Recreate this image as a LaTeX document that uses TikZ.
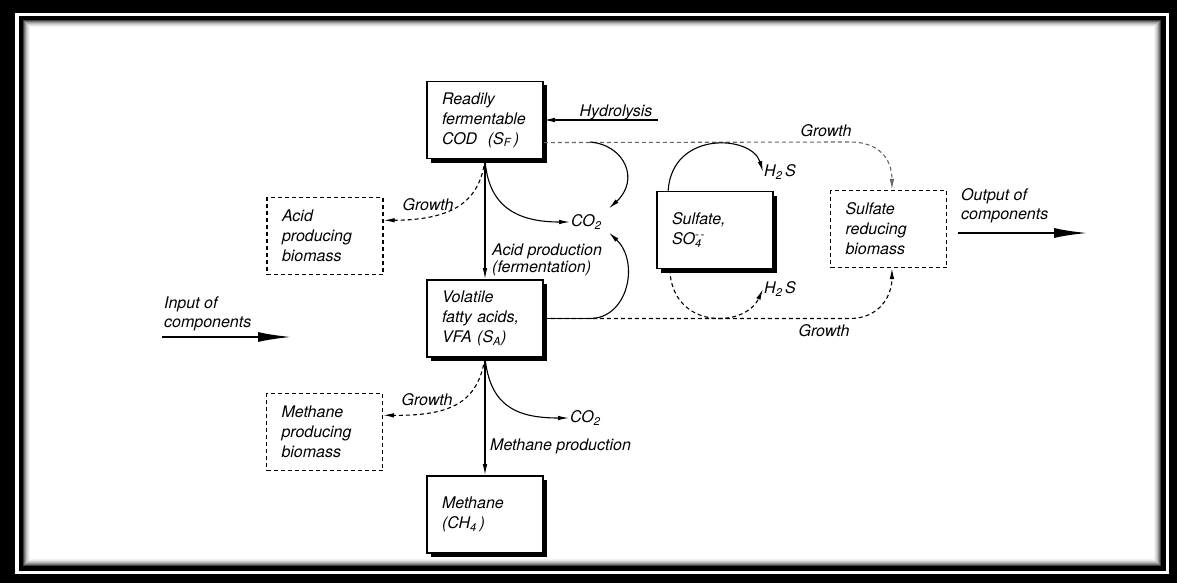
\documentclass[tikz,border=0pt]{standalone}
\usepackage{fontspec}
\setmainfont{TeX Gyre Heros}
\usetikzlibrary{arrows.meta,shadows}

\begin{document}
\begin{tikzpicture}[
	x=1pt, y=-1pt, % one unit = one pixel of the scan, y runs down
	font=\itshape\fontsize{16}{20}\selectfont,
	% Style for the solid pool boxes (with dark shadow)
	pool/.style={
		draw, 
		line width=1.6pt, 
		fill=white,
		minimum width=116pt, 
		minimum height=77pt,
		text width=86pt, 
		inner xsep=15pt, 
		align=left,
		drop shadow={shadow xshift=4pt, shadow yshift=-4pt, fill=black, opacity=1}
	},
	% Style for the dashed biomass boxes
	biomass/.style={
		draw, 
		line width=1.1pt, 
		dash pattern=on 4pt off 3pt,
		minimum width=116pt, 
		minimum height=77pt,
		text width=86pt, 
		inner xsep=15pt, 
		align=left
	},
	% Style for the free labels
	tag/.style={
		inner sep=1pt, 
		align=left, 
		font=\itshape\fontsize{16}{19}\selectfont
	},
	% Styles for the connecting arrows
	flow/.style={
		line width=1.1pt, 
		-{Latex[length=11pt,width=4.5pt]}
	},
	growth/.style={
		flow, 
		dash pattern=on 4pt off 3pt
	},
	io/.style={
		line width=2.4pt, 
		-{Latex[length=34pt,width=10pt]}
	}
	]
	
	\useasboundingbox (0,0) rectangle (1177,583);
	
	% ================= FRAME =================
	\fill[black] (0,0) rectangle (1177,583);
	\fill[white] (15,13) rectangle (1169,574);
	\fill[black] (19,16) rectangle (1166,571);
	\fill[white] (23,20) rectangle (1161,566);
	\foreach \d/\g in {0/75,1/55,2/40,3/28,4/18,5/10,6/5}
		\draw[black!\g, line width=1pt] ({23.5+\d},{20.5+\d}) rectangle ({1160.5-\d},{565.5-\d});
	
	% ================= NODES =================
	\node[pool] (cod)  at (485, 120)   {Readily\\fermentable\\COD\ \ (S\textsubscript{F}\,)};
	\node[pool] (vfa)  at (485, 318.5) {Volatile\\fatty acids,\\VFA (S\textsubscript{A})};
	\node[pool] (ch4)  at (485, 514.5) {Methane\\(CH\textsubscript{4}\,)};
	\node[pool] (sulf) at (715, 230)   {Sulfate,\\SO\rlap{\textsuperscript{-\,-}}\textsubscript{4}};
	
	\node[biomass] (srb)     at (888.5, 229) {Sulfate\\reducing\\biomass};
	\node[biomass] (acidbio) at (325, 236)   {Acid\\producing\\biomass};
	\node[biomass] (methbio) at (324.5, 432) {Methane\\producing\\biomass};
	
	\node[tag] (hydtxt) at (616, 112) {Hydrolysis};
	\node[tag] (gacid)  at (428, 205) {Growth};
	\node[tag] (gmeth)  at (427, 400) {Growth};
	\node[tag] (gtop)   at (826, 131) {Growth};
	\node[tag] (gbot)   at (824, 331) {Growth};
	
	\node[tag, anchor=west] (coa) at (570, 222) {CO\textsubscript{2}};
	\node[tag, anchor=west] (cob) at (569, 418) {CO\textsubscript{2}};
	\node[tag, anchor=west] (hst) at (763, 172) {H\textsubscript{2}\,S};
	\node[tag, anchor=west] (hsb) at (763, 289) {H\textsubscript{2}\,S};
	
	\node[tag, anchor=west, font=\itshape\fontsize{16}{16.5}\selectfont] (acidtxt) at (491, 260) {Acid production\\(fermentation)};
	\node[tag, anchor=west] (methtxt) at (489, 446) {Methane production};
	\node[tag, anchor=west] (intxt)   at (163, 314) {Input of\\components};
	\node[tag, anchor=west] (outtxt)  at (960, 206) {Output of\\components};
	
	\coordinate (inbeg)   at (162, 337);
	\coordinate (inend)   at (292, 337);
	\coordinate (outbeg)  at (958, 233);
	\coordinate (outend)  at (1088, 233);
	\coordinate (hyd)     at (658, 120);
	\coordinate (topfork) at (590, 142);
	\coordinate (botfork) at (590, 318.5);
	
	% ================= EDGES =================
	\draw[io] (inbeg) -- (inend);
	\draw[io] (outbeg) -- (outend);
	\draw[flow] (hyd) -- (cod.east);
	\draw[flow] (cod.south) -- (vfa.north);
	\draw[flow] (vfa.south) -- (ch4.north);
	\draw[flow] (cod.south) .. controls (488,205) and (515,222) .. (coa.west);
	\draw[flow] (vfa.south) .. controls (490,405) and (515,418) .. (cob.west);
	\draw[growth] (cod.south) .. controls (480,200) and (455,220) .. (acidbio.15);
	\draw[growth] (vfa.south) .. controls (478,400) and (455,416) .. (methbio.16);
	\draw[growth, draw=black!60] (cod.-21) -- (850,142) .. controls (880,142) and (892,160) .. (srb.85);
	\draw[growth] (vfa.east) -- (850,318.5) .. controls (880,318.5) and (892,295) .. (srb.-85);
	\draw[flow] (topfork) .. controls (625,145) and (640,180) .. ([xshift=6pt,yshift=5pt]coa.north east);
	\draw[flow, -] (vfa.east) -- (botfork);
	\draw[flow] (botfork) .. controls (628,318.5) and (640,262) .. ([xshift=6pt,yshift=-2pt]coa.south east);
	\draw[flow] (sulf.140) .. controls (672,130) and (752,135) .. (hst.west);
	\draw[growth] (sulf.221) .. controls (672,330) and (745,328) .. (hsb.west);
	
\end{tikzpicture}
\end{document}
